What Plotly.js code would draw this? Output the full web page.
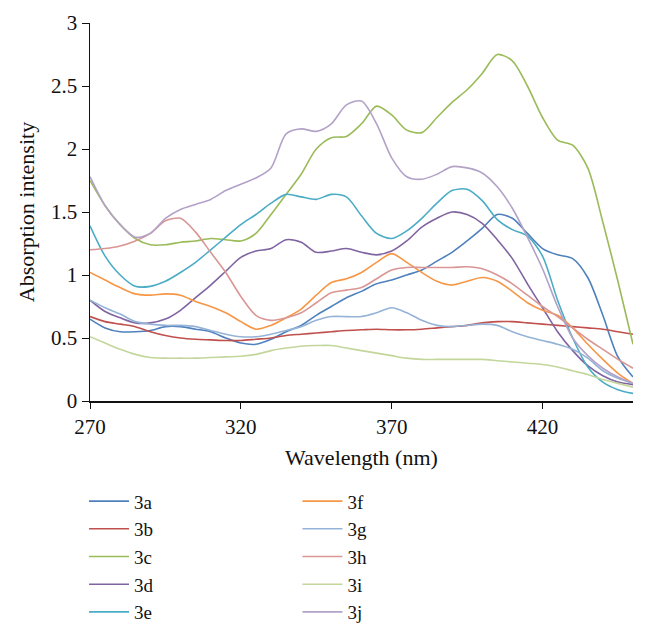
<!DOCTYPE html>
<html>
<head>
<meta charset="utf-8">
<script src="https://cdn.plot.ly/plotly-3.0.1.min.js"></script>
<style>
  body { margin: 0; background: #fff; }
  #plot { width: 648px; height: 637px; }
</style>
</head>
<body>
<div id="plot"></div>
<script>
// wavelength grid (nm), every 5 nm
var wavelength = [270, 275, 280, 285, 290, 295, 300, 305, 310, 315, 320, 325, 330, 335, 340, 345, 350, 355, 360,
  365, 370, 375, 380, 385, 390, 395, 400, 405, 410, 415, 420, 425, 430, 435, 440, 445, 450];

var a3 = [0.65, 0.58, 0.55, 0.55, 0.56, 0.59, 0.59, 0.57, 0.55, 0.50, 0.46, 0.45, 0.49, 0.55, 0.60, 0.68, 0.75, 0.82, 0.87,
  0.93, 0.96, 1.00, 1.04, 1.11, 1.18, 1.27, 1.37, 1.48, 1.45, 1.33, 1.21, 1.16, 1.13, 0.98, 0.68, 0.35, 0.19];
var b3 = [0.67, 0.63, 0.61, 0.59, 0.55, 0.52, 0.50, 0.49, 0.485, 0.48, 0.48, 0.49, 0.50, 0.52, 0.53, 0.54, 0.55, 0.56, 0.565,
  0.57, 0.565, 0.565, 0.57, 0.58, 0.59, 0.60, 0.62, 0.63, 0.63, 0.62, 0.61, 0.60, 0.59, 0.58, 0.57, 0.55, 0.53];
var c3 = [1.75, 1.55, 1.40, 1.29, 1.24, 1.24, 1.26, 1.27, 1.29, 1.28, 1.27, 1.33, 1.48, 1.64, 1.80, 2.00, 2.09, 2.10, 2.20,
  2.34, 2.27, 2.15, 2.13, 2.25, 2.37, 2.47, 2.60, 2.75, 2.70, 2.50, 2.25, 2.07, 2.03, 1.85, 1.42, 0.95, 0.45];
var d3 = [0.80, 0.71, 0.66, 0.62, 0.62, 0.65, 0.72, 0.82, 0.92, 1.03, 1.14, 1.19, 1.21, 1.28, 1.26, 1.18, 1.19, 1.21, 1.18,
  1.16, 1.19, 1.27, 1.38, 1.45, 1.50, 1.48, 1.41, 1.28, 1.13, 0.93, 0.74, 0.55, 0.40, 0.28, 0.20, 0.15, 0.13];
var e3 = [1.39, 1.15, 1.00, 0.91, 0.91, 0.95, 1.02, 1.10, 1.20, 1.30, 1.40, 1.48, 1.57, 1.64, 1.62, 1.60, 1.64, 1.62, 1.47,
  1.33, 1.29, 1.35, 1.45, 1.57, 1.67, 1.68, 1.59, 1.44, 1.36, 1.31, 1.15, 0.80, 0.50, 0.27, 0.15, 0.09, 0.06];
var f3 = [1.02, 0.96, 0.90, 0.85, 0.84, 0.85, 0.84, 0.79, 0.75, 0.70, 0.63, 0.57, 0.60, 0.66, 0.73, 0.84, 0.94, 0.97, 1.02,
  1.10, 1.17, 1.10, 1.02, 0.95, 0.92, 0.95, 0.98, 0.95, 0.87, 0.78, 0.72, 0.68, 0.58, 0.45, 0.33, 0.22, 0.14];
var g3 = [0.80, 0.74, 0.69, 0.63, 0.61, 0.60, 0.60, 0.59, 0.56, 0.53, 0.51, 0.51, 0.53, 0.56, 0.59, 0.64, 0.67, 0.67, 0.67,
  0.70, 0.74, 0.70, 0.64, 0.60, 0.59, 0.60, 0.61, 0.60, 0.55, 0.51, 0.48, 0.45, 0.41, 0.34, 0.24, 0.18, 0.14];
var h3 = [1.20, 1.21, 1.23, 1.27, 1.33, 1.43, 1.45, 1.34, 1.18, 1.02, 0.83, 0.68, 0.64, 0.66, 0.70, 0.78, 0.86, 0.88, 0.90,
  0.97, 1.04, 1.06, 1.06, 1.06, 1.06, 1.065, 1.05, 1.00, 0.93, 0.84, 0.75, 0.67, 0.58, 0.49, 0.41, 0.33, 0.26];
var i3 = [0.51, 0.46, 0.41, 0.37, 0.345, 0.34, 0.34, 0.34, 0.345, 0.35, 0.355, 0.37, 0.40, 0.42, 0.435, 0.44, 0.44, 0.42, 0.40,
  0.38, 0.36, 0.34, 0.33, 0.33, 0.33, 0.33, 0.33, 0.32, 0.31, 0.30, 0.29, 0.27, 0.24, 0.21, 0.17, 0.14, 0.11];
var j3 = [1.78, 1.55, 1.40, 1.30, 1.33, 1.45, 1.52, 1.56, 1.60, 1.67, 1.72, 1.77, 1.85, 2.12, 2.16, 2.14, 2.20, 2.35, 2.38,
  2.20, 1.93, 1.78, 1.76, 1.80, 1.86, 1.85, 1.81, 1.70, 1.53, 1.30, 1.05, 0.75, 0.50, 0.36, 0.26, 0.19, 0.14];

var names = ["3a", "3b", "3c", "3d", "3e", "3f", "3g", "3h", "3i", "3j"];
var series = [a3, b3, c3, d3, e3, f3, g3, h3, i3, j3];
var colors = ["#4F81BD", "#C0504D", "#9BBB59", "#8064A2", "#4BACC6",
  "#F79646", "#95B3D7", "#D99694", "#C3D69B", "#B3A2C7"];

var fontFam = "Liberation Serif, Times New Roman, serif";

var data = series.map(function (ys, i) {
  return {
    x: wavelength,
    y: ys,
    name: names[i],
    type: "scatter",
    mode: "lines",
    line: { color: colors[i], width: 1.6, shape: "spline", smoothing: 0.8 },
    legend: i < 5 ? "legend" : "legend2",
    legendgroup: names[i]
  };
});

var legendStyle = {
  font: { family: fontFam, size: 19, color: "#111" },
  bgcolor: "rgba(0,0,0,0)",
  tracegroupgap: 0,
  itemwidth: 40,
  yanchor: "top",
  xanchor: "left",
  y: -0.215
};

var layout = {
  width: 648,
  height: 637,
  margin: { l: 90, r: 15, t: 23, b: 236, autoexpand: false },
  paper_bgcolor: "#fff",
  plot_bgcolor: "#fff",
  font: { family: fontFam, size: 21, color: "#111" },
  showlegend: true,
  legend: Object.assign({}, legendStyle, { x: -0.011 }),
  legend2: Object.assign({}, legendStyle, { x: 0.382 }),
  xaxis: {
    range: [270, 450],
    tickvals: [270, 320, 370, 420],
    ticks: "outside",
    ticklen: 6,
    tickcolor: "#111",
    showline: true,
    linecolor: "#111",
    linewidth: 1.5,
    showgrid: false,
    zeroline: false,
    tickfont: { family: fontFam, size: 21 },
    title: { text: "Wavelength (nm)", font: { family: fontFam, size: 22 }, standoff: 12 }
  },
  yaxis: {
    range: [0, 3],
    dtick: 0.5,
    ticks: "outside",
    ticklen: 7,
    tickcolor: "#111",
    showline: true,
    linecolor: "#111",
    linewidth: 1.5,
    showgrid: false,
    zeroline: false,
    tickfont: { family: fontFam, size: 21 },
    title: { text: "Absorption intensity", font: { family: fontFam, size: 22 }, standoff: 10 }
  }
};

Plotly.newPlot("plot", data, layout, { displayModeBar: false, staticPlot: true });
</script>
</body>
</html>
